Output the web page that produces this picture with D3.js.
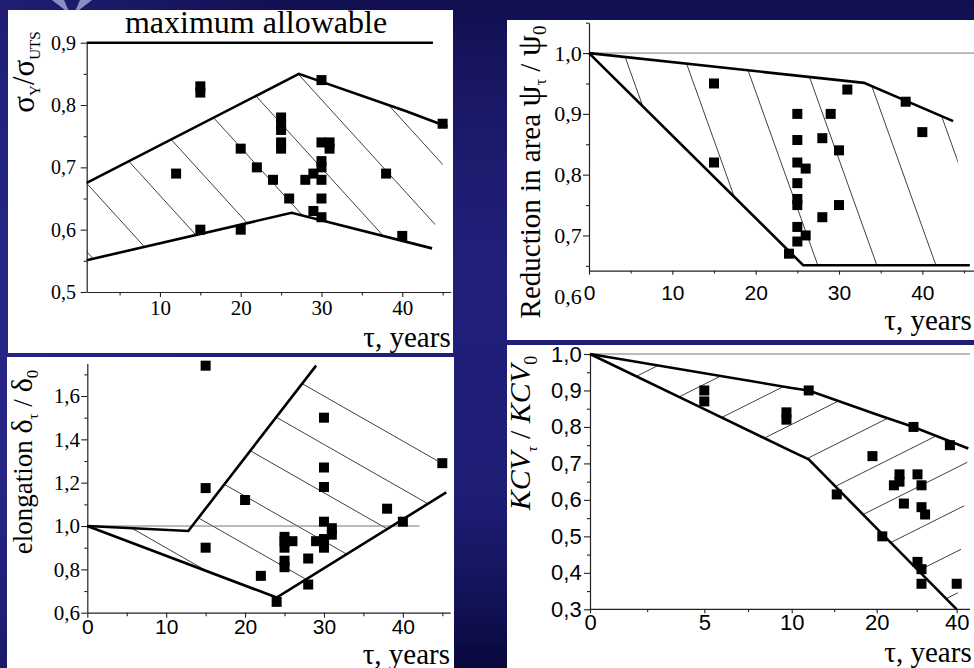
<!DOCTYPE html>
<html><head><meta charset="utf-8">
<script src="https://cdn.jsdelivr.net/npm/d3@7"></script>
<style>html,body{margin:0;padding:0;background:#14125a;overflow:hidden}</style>
</head><body><svg id="chart" width="974" height="668"></svg>
<script>
const SERIF = '"Liberation Serif","Times New Roman",serif';
const SANS = '"Liberation Sans",Arial,sans-serif';

// ---------- σY/σUTS versus service time ----------
const yieldYears = [12,15,15,15,20,20,22,24,25,25,25,25,25,26,28,29,29,30,30,30,30,30,30,30,31,31,38,40,45];
const yieldRatio = [0.69,0.83,0.82,0.60,0.73,0.60,0.70,0.68,0.78,0.77,0.76,0.74,0.73,0.65,0.68,0.69,0.63,0.84,0.74,0.71,0.70,0.68,0.65,0.62,0.74,0.73,0.69,0.59,0.77];
const yieldUpperYears = [0.93, 27.2, 40.5, 45.6];
const yieldUpperRatio = [0.675, 0.85, 0.79, 0.765];
const yieldLowerYears = [0.93, 26.3, 43.7];
const yieldLowerRatio = [0.551, 0.627, 0.57];
const yieldLimitYears = [0.93, 43.8];
const yieldLimitRatio = [0.9, 0.9];
const yieldTicks = [0.5, 0.6, 0.7, 0.8, 0.9];
const yieldMinorTicks = [0.55, 0.65, 0.75, 0.85];
const yieldYearTicks = [10, 20, 30, 40];
const yieldYearMinor = [5, 15, 25, 35, 45];

// ---------- Reduction in area ψτ/ψ0 ----------
const areaYears = [15,15,24,25,25,25,25,25,25,25,25,26,26,28,28,29,30,30,31,38,40];
const areaRatio = [0.95,0.82,0.67,0.90,0.857,0.82,0.786,0.76,0.75,0.714,0.69,0.81,0.70,0.86,0.73,0.90,0.84,0.75,0.94,0.92,0.87];
const areaUpperYears = [0, 33, 43.7];
const areaUpperRatio = [1.0, 0.951, 0.888];
const areaLowerYears = [0, 25.7, 45.7];
const areaLowerRatio = [1.0, 0.651, 0.651];
const areaTicks = [0.6, 0.7, 0.8, 0.9, 1.0];
const areaMinorTicks = [0.65, 0.75, 0.85, 0.95, 1.05];
const areaYearTicks = [0, 10, 20, 30, 40];
const areaYearMinor = [5, 15, 25, 35, 45];

// ---------- Elongation δτ/δ0 ----------
const elongYears = [15,15,15,20,22,24,25,25,25,25,25,26,28,28,29,30,30,30,30,30,30,31,31,38,40,45];
const elongRatio = [1.74,1.175,0.90,1.12,0.77,0.65,0.95,0.93,0.90,0.84,0.81,0.93,0.85,0.73,0.93,1.50,1.27,1.18,1.02,0.94,0.90,0.99,0.96,1.08,1.02,1.29];
const elongUpperYears = [0, 12.8, 29];
const elongUpperRatio = [1.0, 0.977, 1.74];
const elongLowerYears = [0, 24, 45.5];
const elongLowerRatio = [1.0, 0.67, 1.155];
const elongEdgeYears = [44.3];
const elongEdgeRatio = [1.31];
const elongTicks = [0.6, 0.8, 1.0, 1.2, 1.4, 1.6];
const elongMinorTicks = [0.7, 0.9, 1.1, 1.3, 1.5, 1.7];
const elongYearTicks = [0, 10, 20, 30, 40];
const elongYearMinor = [5, 15, 25, 35, 45];

// ---------- Impact toughness KCVτ/KCV0 ----------
const impactYears = [5,5,9.7,9.7,12,15.3,19.5,21.4,24.3,25.7,25.7,26.8,29.2,30.2,31.2,31.2,32.1,30.2,31.2,31.2,38.3,40];
const impactRatio = [0.90,0.87,0.84,0.82,0.90,0.615,0.72,0.50,0.64,0.67,0.65,0.59,0.80,0.67,0.64,0.58,0.56,0.43,0.41,0.37,0.75,0.37];
const impactUpperYears = [0, 5, 10, 12, 20, 29.2, 42.9];
const impactUpperRatio = [1.0, 0.947, 0.907, 0.90, 0.834, 0.80, 0.741];
const impactLowerYears = [0, 5, 10, 12, 20, 40];
const impactLowerRatio = [1.0, 0.849, 0.733, 0.711, 0.522, 0.30];
const impactTicks = [0.3, 0.4, 0.5, 0.6, 0.7, 0.8, 0.9, 1.0];
const impactMinorTicks = [0.35, 0.45, 0.55, 0.65, 0.75, 0.85, 0.95];
const impactYearTicks = [0, 5, 10, 20, 40];
const impactYearMinor = [2.5, 7.5, 15, 30];

const svg = d3.select('#chart');
const defs = svg.append('defs');

// slide background
const bg = defs.append('linearGradient').attr('id', 'bg').attr('x1', 0).attr('y1', 0).attr('x2', 0).attr('y2', 1);
[[0, '#110f50'], [0.15, '#1a1866'], [0.4, '#20207b'], [0.75, '#1d1d74'], [0.9, '#121258'], [1, '#08083a']]
  .forEach(([o, c]) => bg.append('stop').attr('offset', o).attr('stop-color', c));
svg.append('rect').attr('width', 974).attr('height', 668).attr('fill', 'url(#bg)');
const side = defs.append('linearGradient').attr('id', 'side').attr('x1', 0).attr('y1', 0).attr('x2', 1).attr('y2', 0);
side.append('stop').attr('offset', 0).attr('stop-color', '#2a2a90').attr('stop-opacity', 0.55);
side.append('stop').attr('offset', 1).attr('stop-color', '#2a2a90').attr('stop-opacity', 0);
svg.append('rect').attr('width', 300).attr('height', 668).attr('fill', 'url(#side)');
// star ornament in the corner
svg.append('path').attr('d', 'M52,0 L70,14 L64,0 Z M92,0 L74,14 L80,0 Z').attr('fill', '#a9a9dc').attr('opacity', 0.8);

const fmt = d => d3.format('.1f')(d).replace('.', ',');

function drawPanel(c) {
  const g = svg.append('g');
  const [fx0, fy0, fx1, fy1] = c.frame;
  g.append('rect').attr('x', fx0).attr('y', fy0).attr('width', fx1 - fx0).attr('height', fy1 - fy0).attr('fill', '#fff');
  const x = c.x, y = c.y;
  const pts = (xs, ys) => xs.map((v, i) => [x(v), y(ys[i])]);
  const line = d3.line();

  // hatched band between the two envelope curves
  const band = pts(c.upper[0], c.upper[1])
    .concat(c.edge ? pts(c.edge[0], c.edge[1]) : [], pts(c.lower[0], c.lower[1]).reverse());
  const clipId = 'clip' + c.id;
  defs.append('clipPath').attr('id', clipId).append('path').attr('d', line(band) + 'Z');
  const a = c.hatch.angle * Math.PI / 180;
  const dx = Math.cos(a), dy = Math.sin(a), nx = -dy, ny = dx;
  const hg = g.append('g').attr('clip-path', `url(#${clipId})`);
  d3.range(-30, 31).forEach(k => {
    const px = c.hatch.x + k * c.hatch.step * nx, py = c.hatch.y + k * c.hatch.step * ny;
    hg.append('line').attr('x1', px - 900 * dx).attr('y1', py - 900 * dy).attr('x2', px + 900 * dx).attr('y2', py + 900 * dy)
      .attr('stroke', '#2a2a2a').attr('stroke-width', 0.9);
  });

  // reference line at 1,0
  if (c.refLine) {
    g.append('line').attr('x1', x(c.refLine[0])).attr('x2', x(c.refLine[1])).attr('y1', y(1)).attr('y2', y(1))
      .attr('stroke', '#777').attr('stroke-width', 1);
  }

  // axes
  const yAxis = d3.axisLeft(y).tickValues(c.yTicks).tickFormat(fmt).tickSize(6).tickPadding(c.yPad).tickSizeOuter(0);
  const ya = g.append('g').attr('transform', `translate(${x.range()[0]},0)`).call(yAxis);
  const yMinor = d3.axisLeft(y).tickValues(c.yMinor).tickFormat('').tickSize(3).tickSizeOuter(0);
  g.append('g').attr('transform', `translate(${x.range()[0]},0)`).call(yMinor).select('.domain').remove();
  const xAxis = d3.axisBottom(x).tickValues(c.xTicks).tickFormat(d3.format('d')).tickSize(c.xTickSize).tickPadding(c.xPad).tickSizeOuter(0);
  const xa = g.append('g').attr('transform', `translate(0,${y.range()[0]})`).call(xAxis);
  const xMinor = d3.axisBottom(x).tickValues(c.xMinor).tickFormat('').tickSize(c.xTickSize * 0.7).tickSizeOuter(0);
  g.append('g').attr('transform', `translate(0,${y.range()[0]})`).call(xMinor).select('.domain').remove();
  if (c.xAxisEnd) {
    xa.select('.domain').attr('d', `M${x.range()[0]},0H${c.xAxisEnd}`);
  }
  if (c.hideTick) ya.selectAll('.tick').filter(d => c.hideTick.includes(d)).select('line').remove();
  svg.selectAll('.domain').attr('stroke', '#222').attr('stroke-width', 1.2);
  g.selectAll('.tick line').attr('stroke', '#222').attr('stroke-width', 1.1);
  ya.selectAll('text').attr('font-family', c.yFont).attr('font-size', c.yFontSize).attr('fill', '#000');
  xa.selectAll('text').attr('font-family', c.xFont).attr('font-size', c.xFontSize).attr('fill', '#000');

  // envelope curves
  [c.upper, c.lower].concat(c.limit ? [c.limit] : []).forEach(s => {
    g.append('path').attr('d', line(pts(s[0], s[1]))).attr('fill', 'none').attr('stroke', '#000').attr('stroke-width', 2.6);
  });

  // measurements
  g.selectAll('rect.pt').data(c.points[0].map((v, i) => [v, c.points[1][i]])).join('rect').attr('class', 'pt')
    .attr('x', d => x(d[0]) - 5).attr('y', d => y(d[1]) - 5).attr('width', 10).attr('height', 10).attr('fill', '#000');

  // axis title
  g.append('text').attr('x', c.xTitle[0]).attr('y', c.xTitle[1]).attr('text-anchor', 'end')
    .attr('font-family', SERIF).attr('font-size', 29).text('τ, years');

  // rotated quantity label
  const t = g.append('text').attr('transform', `translate(${c.yTitle[0]},${c.yTitle[1]}) rotate(-90)`)
    .attr('text-anchor', 'middle').attr('font-family', SERIF).attr('font-size', c.yTitleSize)
    .attr('font-style', c.yTitleItalic ? 'italic' : 'normal');
  c.yTitleParts.forEach(p => {
    const ts = t.append('tspan').text(p.t);
    if (p.sub) ts.attr('font-size', p.size || 16).attr('dy', p.sub);
    if (p.size && !p.sub) ts.attr('font-size', p.size);
    if (p.back) ts.attr('dy', p.back);
    if (p.normal) ts.attr('font-style', 'normal');
  });
  return g;
}

// Panel: σY/σUTS
drawPanel({
  id: 'A', frame: [8, 10, 453, 353],
  x: d3.scaleLinear().domain([0.93, 46]).range([86.7, 450.7]),
  y: d3.scaleLinear().domain([0.5, 0.9]).range([292, 42.7]),
  upper: [yieldUpperYears, yieldUpperRatio], lower: [yieldLowerYears, yieldLowerRatio],
  limit: [yieldLimitYears, yieldLimitRatio],
  points: [yieldYears, yieldRatio],
  hatch: { angle: 47.7, step: 46, x: 87.3, y: 184 },
  yTicks: yieldTicks, yMinor: yieldMinorTicks, xTicks: yieldYearTicks, xMinor: yieldYearMinor,
  yPad: 4.7, xPad: 3, xTickSize: 5, yFont: SERIF, yFontSize: 20, xFont: SERIF, xFontSize: 21,
  xTitle: [450.7, 346.5], yTitle: [34, 72], yTitleSize: 31,
  yTitleParts: [{ t: 'σ' }, { t: 'Y', sub: 6, size: 15 }, { t: '/', back: -6 }, { t: 'σ' }, { t: 'UTS', sub: 6, size: 15 }]
});
svg.append('text').attr('x', 256).attr('y', 33).attr('text-anchor', 'middle').attr('font-family', SERIF)
  .attr('font-size', 32).text('maximum allowable');

// Panel: reduction in area
drawPanel({
  id: 'B', frame: [507, 20, 974, 340],
  x: d3.scaleLinear().domain([0, 46.2]).range([589, 974]),
  y: d3.scaleLinear().domain([0.642, 1.05]).range([270.7, 22.7]),
  upper: [areaUpperYears, areaUpperRatio], lower: [areaLowerYears, areaLowerRatio],
  points: [areaYears, areaRatio], refLine: [0, 46.2],
  hatch: { angle: 70.3, step: 55.6, x: 625, y: 56.6 },
  yTicks: areaTicks, yMinor: areaMinorTicks, xTicks: areaYearTicks, xMinor: areaYearMinor,
  hideTick: [0.6],
  yPad: 1.3, xPad: 10, xTickSize: 4, yFont: SERIF, yFontSize: 22, xFont: SANS, xFontSize: 21,
  xTitle: [971.7, 330], yTitle: [540, 172], yTitleSize: 29,
  yTitleParts: [{ t: 'Reduction in area  ' }, { t: 'ψ', size: 34 }, { t: 'τ', sub: 6, size: 16 }, { t: ' / ', back: -6 }, { t: 'ψ', size: 34 }, { t: '0', sub: 6, size: 19 }]
});

// Panel: elongation
drawPanel({
  id: 'C', frame: [7, 357, 454, 668],
  x: d3.scaleLinear().domain([0, 46]).range([87.3, 450.2]),
  y: d3.scaleLinear().domain([0.6, 1.75]).range([612.7, 363.5]),
  upper: [elongUpperYears, elongUpperRatio], lower: [elongLowerYears, elongLowerRatio],
  edge: [elongEdgeYears, elongEdgeRatio],
  points: [elongYears, elongRatio], refLine: [0, 42.1],
  hatch: { angle: 29.7, step: 42, x: 303.3, y: 384.3 },
  yTicks: elongTicks, yMinor: elongMinorTicks, xTicks: elongYearTicks, xMinor: elongYearMinor,
  yPad: 1.4, xPad: 1, xTickSize: 5, yFont: SERIF, yFontSize: 21, xFont: SANS, xFontSize: 21,
  xTitle: [450, 663.5], yTitle: [32, 462], yTitleSize: 27,
  yTitleParts: [{ t: 'elongation  ' }, { t: 'δ', size: 30 }, { t: 'τ', sub: 6, size: 15 }, { t: ' / ', back: -6 }, { t: 'δ', size: 30 }, { t: '0', sub: 6, size: 17 }]
});

// Panel: impact toughness (stretched time axis)
drawPanel({
  id: 'D', frame: [507, 345, 974, 668],
  x: d3.scaleLinear().domain([0, 5, 10, 20, 40]).range([590, 704.3, 791.7, 876.7, 956.7]),
  y: d3.scaleLinear().domain([0.3, 1.0]).range([609.3, 354]),
  xAxisEnd: 970,
  upper: [impactUpperYears, impactUpperRatio], lower: [impactLowerYears, impactLowerRatio],
  points: [impactYears, impactRatio], refLine: [0, 43.3],
  hatch: { angle: -26.6, step: 37.5, x: 723.3, y: 416.7 },
  yTicks: impactTicks, yMinor: impactMinorTicks, xTicks: impactYearTicks, xMinor: impactYearMinor,
  yPad: 2.3, xPad: 1, xTickSize: 4, yFont: SANS, yFontSize: 22, xFont: SANS, xFontSize: 22,
  xTitle: [971.7, 662], yTitle: [530, 433], yTitleSize: 30, yTitleItalic: true,
  yTitleParts: [{ t: 'KCV' }, { t: 'τ', sub: 7, size: 15, }, { t: ' / ', back: -7, normal: true }, { t: 'KCV' }, { t: '0', sub: 7, size: 18, normal: true }]
});
</script></body></html>
